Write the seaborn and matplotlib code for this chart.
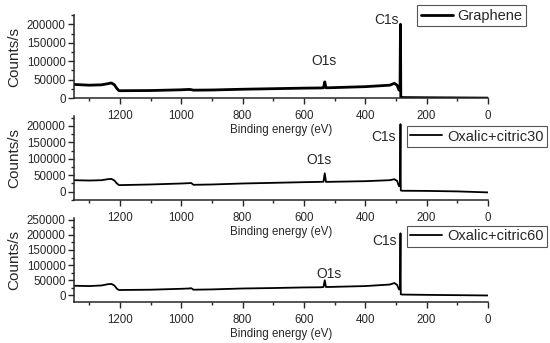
import matplotlib
matplotlib.use('Agg')
import matplotlib.pyplot as plt
from matplotlib.ticker import MultipleLocator
import seaborn as sns

# binding energy grid (eV)
energy = [1350, 1300, 1260, 1240, 1228, 1218, 1210, 1203, 1100, 1000, 975, 968, 960,
          900, 800, 700, 600, 545, 536, 532, 528, 520, 400, 320, 305, 296, 290,
          286.5, 285, 284, 280, 200, 100, 0]

graphene = [37000, 35000, 36000, 39000, 41000, 36000, 26000, 20000, 20500, 22500, 23500, 23000, 21500,
            22000, 24000, 25500, 27000, 27500, 28000, 44000, 28000, 28000, 31000, 35000, 40000, 35000, 22000,
            22000, 200000, 2500, 1500, 1000, 500, 0]
citric30 = [35000, 34000, 35000, 38000, 39000, 34000, 25000, 20000, 22000, 25000, 26000, 26500, 21000,
            22000, 25000, 27000, 29000, 30000, 30500, 56000, 30000, 30000, 32000, 35000, 38000, 33000, 17000,
            17000, 205000, 4000, 3000, 2500, 1000, -2000]
citric60 = [32000, 31000, 33000, 37000, 38000, 33000, 22000, 18000, 19000, 22000, 23000, 24000, 19000,
            20000, 23000, 24500, 26500, 27000, 28000, 50000, 28000, 28000, 31000, 36000, 41000, 35000, 20000,
            20000, 205000, 4000, 3000, 2000, 1000, 0]

labels = ['Graphene', 'Oxalic+citric30', 'Oxalic+citric60']
series = [graphene, citric30, citric60]
ylims = [(0, 225000), (-25000, 230000), (-21000, 256000)]
ymax_tick = [200000, 200000, 250000]
# peak label positions (energy, counts)
o1s_pos = [(535, 100000), (551, 96000), (518, 70000)]
c1s_pos = [(331, 211000), (341, 167000), (337, 180000)]

sns.set_style('ticks')
plt.rcParams['font.family'] = ['Liberation Sans', 'DejaVu Sans']

fig = plt.figure(figsize=(5.5, 3.43), dpi=100)
boxes = [(0.1345, 0.714, 0.7525, 0.242), (0.1345, 0.417, 0.7525, 0.245), (0.1345, 0.120, 0.7525, 0.245)]
leg_anchor = [(0.829, 1.12), (0.804, 0.881), (0.804, 0.905)]
lws = [2.0, 1.3, 1.3]

for i in range(3):
    ax = fig.add_axes(boxes[i])
    ax.patch.set_alpha(0)
    sns.lineplot(x=energy, y=series[i], ax=ax, color='black', lw=lws[i],
                 label=labels[i], estimator=None, sort=False)
    ax.set_xlim(1350, 0)
    ax.set_ylim(*ylims[i])
    ax.set_xticks(range(0, 1201, 200))
    ax.xaxis.set_minor_locator(MultipleLocator(100))
    ax.set_yticks(range(0, ymax_tick[i] + 1, 50000))
    ax.yaxis.set_minor_locator(MultipleLocator(25000))
    ax.tick_params(which='major', direction='out', length=4, width=1, labelsize=8.3, pad=2)
    ax.tick_params(axis='x', which='major', pad=4.5)
    ax.tick_params(which='minor', direction='out', length=2.5, width=1)
    sns.despine(ax=ax)
    for s in ['left', 'bottom']:
        ax.spines[s].set_linewidth(1.1)
    ax.set_xlabel('Binding energy (eV)', fontsize=8.3, labelpad=1.5)
    ax.set_ylabel('Counts/s', fontsize=11, labelpad=2)
    ax.yaxis.set_label_coords(-0.128, 0.5)
    ax.text(*o1s_pos[i], 'O1s', fontsize=10, ha='center', va='center')
    ax.text(*c1s_pos[i], 'C1s', fontsize=10, ha='center', va='center', clip_on=False)
    leg = ax.legend(loc='upper left', bbox_to_anchor=leg_anchor[i], borderaxespad=0,
                    fontsize=10.5, handlelength=2.2, handletextpad=0.3, borderpad=0.25,
                    fancybox=False, framealpha=1, edgecolor='#555555')
    leg.get_frame().set_linewidth(0.8)

fig.savefig('out.png', dpi=100)
